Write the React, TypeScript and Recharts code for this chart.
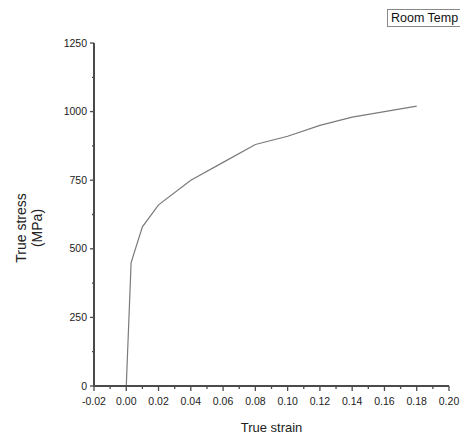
import React from "react";
import { LineChart, Line, XAxis, YAxis } from "recharts";

const strain = [0, 0.003, 0.01, 0.02, 0.04, 0.06, 0.08, 0.1, 0.12, 0.14, 0.16, 0.18];
const stress = [0, 450, 580, 660, 750, 815, 880, 910, 950, 980, 1000, 1020];

const xTicks = [
  -0.02, -0.01, 0, 0.01, 0.02, 0.03, 0.04, 0.05, 0.06, 0.07, 0.08, 0.09,
  0.1, 0.11, 0.12, 0.13, 0.14, 0.15, 0.16, 0.17, 0.18, 0.19, 0.2,
];
const yTicks = [0, 125, 250, 375, 500, 625, 750, 875, 1000, 1125, 1250];

const seriesName = "Room Temp";

const data = strain.map((s, i) => ({ strain: s, stress: stress[i] }));

const font = "'Liberation Sans', Arial, sans-serif";
const axisColor = "#4a4a4a";

const XTick = (props: any) => {
  const { x, y, index, payload } = props;
  const major = index % 2 === 0;
  return (
    <g>
      <line x1={x} x2={x} y1={y} y2={y + (major ? 5 : 3)} stroke={axisColor} strokeWidth={1.3} />
      {major && (
        <text x={x} y={y + 19} textAnchor="middle" fontSize={10.5} fill="#222" fontFamily={font}>
          {payload.value.toFixed(2)}
        </text>
      )}
    </g>
  );
};

const YTick = (props: any) => {
  const { x, y, index, payload } = props;
  const major = index % 2 === 0;
  return (
    <g>
      <line x1={x - (major ? 4 : 2)} x2={x} y1={y} y2={y} stroke={axisColor} strokeWidth={1.3} />
      {major && (
        <text x={x - 7} y={y + 3.5} textAnchor="end" fontSize={10.5} fill="#222" fontFamily={font}>
          {payload.value}
        </text>
      )}
    </g>
  );
};

const XLabel = (props: any) => {
  const { viewBox } = props;
  return (
    <text x={viewBox.x + viewBox.width / 2} y={viewBox.y + 46} textAnchor="middle" fontSize={13} fill="#222" fontFamily={font}>
      True strain
    </text>
  );
};

const YLabel = () => (
  <text transform="translate(26,228) rotate(-90)" textAnchor="middle" fontSize={14} fill="#222" fontFamily={font}>
    <tspan x={0} dy={0}>True stress</tspan>
    <tspan x={0} dy={16}>(MPa)</tspan>
  </text>
);

export default function App() {
  return (
    <div style={{ position: "absolute", left: 0, top: 0, width: 460, height: 437, overflow: "hidden", background: "#fff" }}>
      <LineChart width={460} height={437} data={data} margin={{ top: 43, right: 11, bottom: 0, left: 0 }}>
        <XAxis
          dataKey="strain"
          type="number"
          domain={[-0.02, 0.2]}
          ticks={xTicks}
          interval={0}
          height={51}
          tickSize={0}
          tickMargin={0}
          tickLine={false}
          tick={<XTick />}
          axisLine={{ stroke: axisColor, strokeWidth: 2 }}
          label={{ content: <XLabel /> }}
        />
        <YAxis
          type="number"
          domain={[0, 1250]}
          ticks={yTicks}
          interval={0}
          width={94}
          tickSize={0}
          tickMargin={0}
          tickLine={false}
          tick={<YTick />}
          axisLine={{ stroke: axisColor, strokeWidth: 2 }}
          label={{ content: <YLabel /> }}
        />
        <Line
          type="linear"
          dataKey="stress"
          name={seriesName}
          stroke="#7a7a7a"
          strokeWidth={1.2}
          dot={false}
          isAnimationActive={false}
        />
      </LineChart>
      <div
        style={{
          position: "absolute",
          left: 387,
          top: 9,
          width: 100,
          height: 18,
          border: "1px solid #888",
          boxSizing: "border-box",
          fontFamily: font,
          fontSize: 12.5,
          lineHeight: "16px",
          paddingLeft: 3,
          color: "#111",
          whiteSpace: "nowrap",
        }}
      >
        {seriesName}
      </div>
    </div>
  );
}
